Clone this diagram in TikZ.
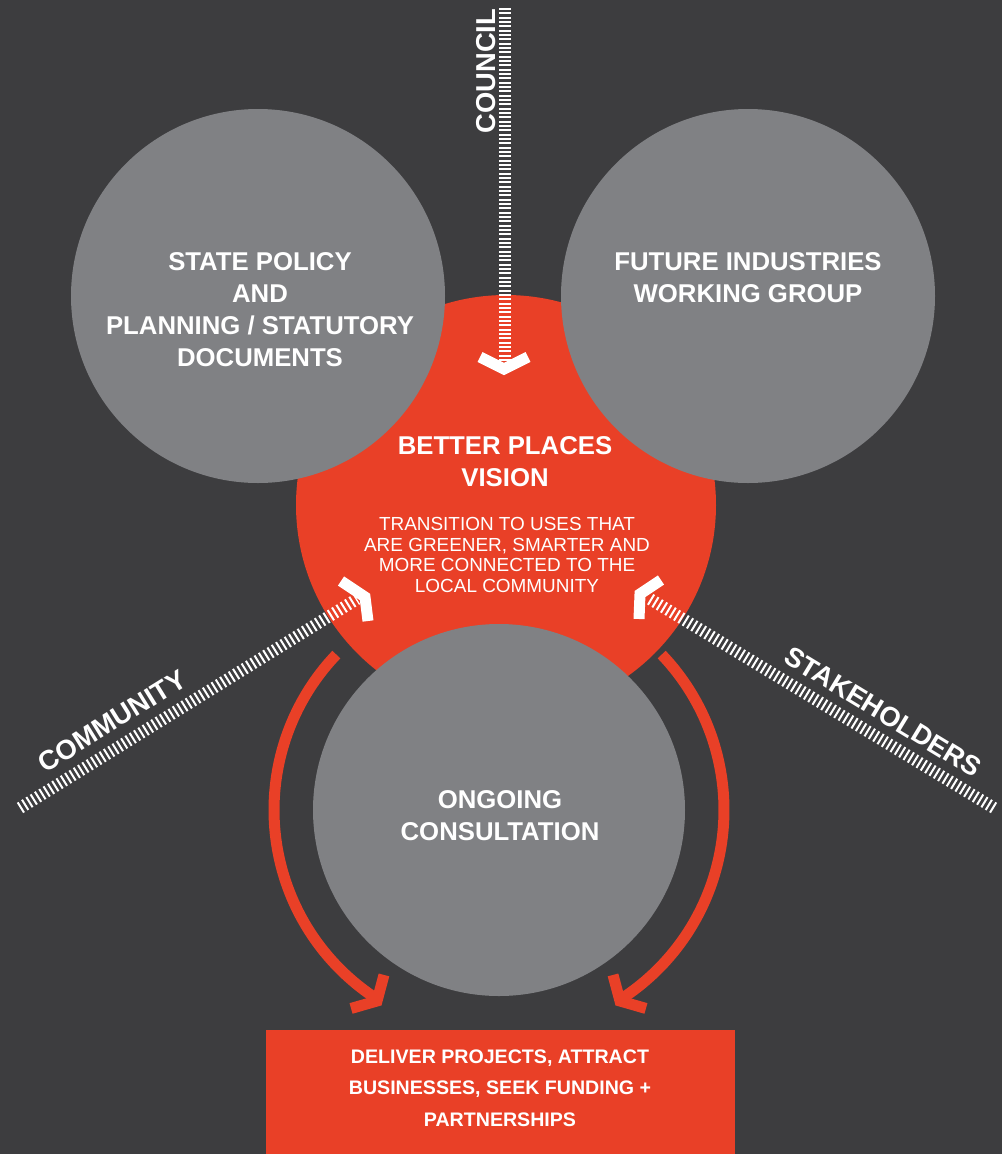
\documentclass[tikz,border=0pt]{standalone}
\usepackage{fontspec}
\setmainfont{Liberation Sans}
\definecolor{bg}{HTML}{3D3D3F}
\definecolor{cgray}{HTML}{808184}
\definecolor{cred}{HTML}{E94027}
\begin{document}
\begin{tikzpicture}[x=0.75pt,y=-0.75pt,
  ttl/.style={text=white,font=\bfseries\fontsize{19.3}{24}\selectfont,align=center,inner sep=0pt},
  boxtxt/.style={text=white,font=\bfseries\fontsize{14.7}{23.6}\selectfont,align=center,inner sep=0pt},
  sub/.style={text=white,font=\fontsize{14.2}{15.5}\selectfont,align=center,inner sep=0pt},
  lbl/.style={text=white,font=\bfseries\fontsize{20.5}{22}\selectfont,inner sep=0pt},
  hatch/.style={draw=white,line width=9pt,dash pattern=on 1.45pt off 1.8pt},
  dhatch/.style={draw=white,line width=9pt,dash pattern=on 1.5pt off 2.3pt},
  chev/.style={draw=white,line width=8.25pt,miter limit=10},
  redarc/.style={draw=cred,line width=8.25pt},
  redhead/.style={draw=cred,line width=8.25pt,miter limit=10},
  bigcirc/.style={circle,inner sep=0pt,minimum size=#1},
]
\fill[bg] (0,0) rectangle (1002,1154);
\useasboundingbox (0,0) rectangle (1002,1154);

% red vision circle
\node[bigcirc=315pt,fill=cred] (vision) at (506,505) {};
% grey circles
\node[bigcirc=280.5pt,fill=cgray] (state) at (258,296) {};
\node[bigcirc=280.5pt,fill=cgray] (future) at (748,296) {};
\node[bigcirc=279pt,fill=cgray] (consult) at (499,810) {};

% bottom box
\node[fill=cred,minimum width=351.75pt,minimum height=93pt,inner sep=0pt] (deliver) at (500.5,1092) {};

% texts
\node[ttl] (stateT) at (260,310) {STATE POLICY\\AND\\PLANNING / STATUTORY\\DOCUMENTS};
\node[ttl] (futureT) at (748,278) {FUTURE INDUSTRIES\\WORKING GROUP};
\node[ttl] (visionT) at (505,462) {BETTER PLACES\\VISION};
\node[sub] (visionS) at (507,555) {TRANSITION TO USES THAT\\ARE GREENER, SMARTER AND\\MORE CONNECTED TO THE\\LOCAL COMMUNITY};
\node[ttl] (consultT) at (500,816) {ONGOING\\CONSULTATION};
\node[boxtxt] (deliverT) at (500,1088) {DELIVER PROJECTS, ATTRACT\\BUSINESSES, SEEK FUNDING +\\PARTNERSHIPS};

% council input
\coordinate (councilTop) at (505,8);
\coordinate (councilEnd) at (505,362);
\draw[hatch] (councilTop) -- (councilEnd);
\node[lbl,rotate=90] (councilL) at (486,71) {COUNCIL};
\draw[chev] (480,357) -- (504,369) -- (528,357);

% community input
\coordinate (commStart) at (20,808);
\coordinate (commEnd) at (357,599);
\draw[dhatch] (commStart) -- (commEnd);
\node[lbl,rotate=31.8] (commL) at (112,721) {COMMUNITY};
\draw[chev] (341,581) -- (365,597) -- (368,621);

% stakeholders input
\coordinate (stakeStart) at (994,808);
\coordinate (stakeEnd) at (650,599);
\draw[dhatch] (stakeStart) -- (stakeEnd);
\node[lbl,rotate=-31.3] (stakeL) at (883,712) {STAKEHOLDERS};
\draw[chev] (661,580) -- (640,594) -- (639,619);

% red arrows around consultation
\draw[redarc] (consult.center) ++(223.7:225) arc[start angle=223.7,end angle=123,radius=225];
\coordinate (tipL) at (377,1001);
\draw[redhead] ([shift={(285:27)}]tipL) -- (tipL) -- ([shift={(164:27)}]tipL);
\draw[redarc] (consult.center) ++(316.3:225) arc[start angle=316.3,end angle=417,radius=225];
\coordinate (tipR) at (620,1001);
\draw[redhead] ([shift={(255:27)}]tipR) -- (tipR) -- ([shift={(16:27)}]tipR);
\end{tikzpicture}
\end{document}
